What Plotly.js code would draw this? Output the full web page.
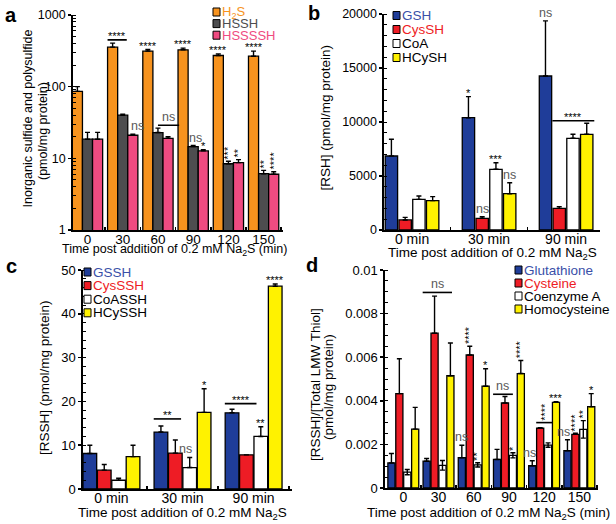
<!DOCTYPE html>
<html><head><meta charset="utf-8">
<script src="https://cdn.plot.ly/plotly-3.0.1.min.js"></script>
<style>html,body{margin:0;padding:0;background:#fff;}#chart{width:616px;height:524px;}</style>
</head><body><div id="chart"></div>
<script>
// ---------------- data ----------------
// Panel a (log scale)
const timesA = ['0','30','60','90','120','150'];
const h2s      = [86, 356, 313, 327, 272, 266];
const h2sErr   = [14, 49, 17, 18, 15, 47];
const hssh     = [18.5, 40, 22.9, 14.6, 8.4, 6.1];
const hsshErr  = [4.5, 1.2, 3.5, 0.5, 0.7, 0.7];
const hsssh    = [18.5, 21, 19, 12.7, 8.7, 6.0];
const hssshErr = [4.5, 0.8, 1.0, 0.5, 0.9, 0.5];

// Panel b
const timesB = ['0 min','30 min','90 min'];
const gsh      = [6850, 10400, 14260];
const gshErr   = [1550, 1950, 5100];
const cysh     = [930, 1080, 2000];
const cyshErr  = [240, 150, 160];
const coa      = [2840, 5620, 8490];
const coaErr   = [310, 610, 370];
const hcysh    = [2720, 3360, 8860];
const hcyshErr = [370, 1020, 1020];

// Panel c
const gssh      = [8.1, 13.0, 17.4];
const gsshErr   = [1.9, 1.4, 0.8];
const cyssh     = [4.3, 8.2, 7.8];
const cysshErr  = [1.3, 3.0, 0];
const coassh    = [2.0, 4.9, 12.0];
const coasshErr = [0.45, 2.3, 2.2];
const hcyssh    = [7.4, 17.5, 46.3];
const hcysshErr = [2.6, 5.4, 0.5];

// Panel d
const glutR   = [0.00115, 0.00123, 0.00139, 0.00131, 0.00102, 0.00171];
const glutE   = [0.00043, 0.00012, 0.00057, 0.00046, 0.00023, 0.0005];
const cysR    = [0.00433, 0.0071, 0.0061, 0.0039, 0.00274, 0.00246];
const cysE    = [0.0016, 0.0017, 0.0004, 0.0003, 0.00003, 0.00005];
const coaR    = [0.00073, 0.00104, 0.00106, 0.0015, 0.00197, 0.00269];
const coaE    = [0.00012, 0.00022, 0.0001, 0.00012, 0.0001, 0.0004];
const hcyR    = [0.0027, 0.00515, 0.00467, 0.00525, 0.00393, 0.00373];
const hcyE    = [0.001, 0.0015, 0.0008, 0.0006, 0.00003, 0.0006];

// significance labels: [category, series, text, rotated, xshift]
const sigA = [[2,0,'****'],[3,0,'****'],[4,0,'****'],[5,0,'****'],[1,2,'ns',0,5],[3,1,'ns',0,2],[3,2,'*'],
              [4,1,'***',1],[4,2,'**',1],[5,1,'**',1],[5,2,'****',1]];
const brA  = [[1,0,1.9,450,'****'],[2,1.5,3.6,29,'ns']];
const sigB = [[1,0,'*'],[1,1,'ns'],[1,2,'***'],[1,3,'ns'],[2,0,'ns']];
const brB  = [[2,1,4.05,10120,'****']];
const sigC = [[1,2,'ns',0,-4],[1,3,'*'],[2,2,'**'],[2,3,'****']];
const brC  = [[1,0,1.9,16,'**'],[2,0,2.2,19.5,'****']];
const sigD = [[2,0,'ns'],[2,1,'****',1],[2,2,'**',1],[2,3,'*'],[3,2,'*',1],[3,3,'****',1],
              [4,0,'ns',0,-3],[4,3,'***'],[5,0,'ns',0,-4],[5,1,'****',1],[5,2,'**',1],[5,3,'*']];
const brD  = [[1,0,3.7,0.00897,'ns'],[3,0,2.5,0.0043,'ns'],[4,1,3,0.0030,'****',1]];

// ---------------- styling ----------------
const ORANGE='#F7931E', GREY='#4D4D4F', PINK='#EF4B81';
const BLUE='#1F3D99', RED='#EE1C25', WHITE='#FFFFFF', YELLOW='#FFF200';
const FONT='Liberation Sans, Arial, sans-serif';
const W=616, H=524;
const PX = v=>v/W, PY = v=>1-v/H;

const panels = [
 {id:'', letter:'a', lpos:[11,15], dx:[72.7,283], dy:[15,230], xr:[-0.42,5.55], gw:0.86, frac:1.0,
  cats:timesA, log:true, yr:[0,3], tv:[1,10,100,1000], minor:'D1',
  ytitle:[['Inorganic sulfide and polysulfide',27.5,119],['(pmol/mg protein)',43,131]],
  xtitle:['Time post addition of 0.2 mM Na<sub>2</sub>S (min)',174.5,250],
  leg:[213,12,11.6], legF:13, sig:sigA, br:brA, tickF:12.5, xtickF:13.5, titleF:12.5,
  series:[
   {name:'H<sub>2</sub>S', y:h2s, e:h2sErr, c:ORANGE, tc:ORANGE},
   {name:'HSSH', y:hssh, e:hsshErr, c:GREY, tc:GREY},
   {name:'HSSSSH', y:hsssh, e:hssshErr, c:PINK, tc:PINK}]},
 {id:'2', letter:'b', lpos:[314,13], dx:[384,600], dy:[14,230], xr:[-0.364,2.44], gw:0.714, frac:0.9,
  cats:timesB, log:false, yr:[0,20000], tv:[0,5000,10000,15000,20000], minor:1000,
  ytitle:[['[RSH] (pmol/mg protein)',325,117.5]],
  xtitle:['Time post addition of 0.2 mM Na<sub>2</sub>S',492,253],
  leg:[393,15.5,14], legF:13.5, sig:sigB, br:brB, tickF:12.5, xtickF:14, titleF:13.5,
  series:[
   {name:'GSH', y:gsh, e:gshErr, c:BLUE, tc:'#3A50A8'},
   {name:'CysSH', y:cysh, e:cyshErr, c:RED, tc:RED},
   {name:'CoA', y:coa, e:coaErr, c:WHITE, tc:'#000'},
   {name:'HCySH', y:hcysh, e:hcyshErr, c:YELLOW, tc:'#000'}]},
 {id:'3', letter:'c', lpos:[11,266], dx:[83,292], dy:[270,489], xr:[-0.4,2.54], gw:0.81, frac:0.95,
  cats:timesB, log:false, yr:[0,50], tv:[0,10,20,30,40,50], minor:2,
  ytitle:[['[RSSH] (pmol/mg protein)',44,378]],
  xtitle:['Time post addition of 0.2 mM Na<sub>2</sub>S',183,513],
  leg:[84,272,13.6], legF:13.5, sig:sigC, br:brC, tickF:13, xtickF:14, titleF:13.5,
  series:[
   {name:'GSSH', y:gssh, e:gsshErr, c:BLUE, tc:'#3A50A8'},
   {name:'CysSSH', y:cyssh, e:cysshErr, c:RED, tc:RED},
   {name:'CoASSH', y:coassh, e:coasshErr, c:WHITE, tc:'#000'},
   {name:'HCySSH', y:hcyssh, e:hcysshErr, c:YELLOW, tc:'#000'}]},
 {id:'4', letter:'d', lpos:[312,265], dx:[385,598], dy:[270,488], xr:[-0.52,5.53], gw:0.9, frac:0.9,
  cats:timesA, log:false, yr:[0,0.01], tv:[0,0.002,0.004,0.006,0.008,0.01], minor:0.0005,
  ytitle:[['[RSSH]/[Total LMW Thiol]',315,385],['(pmol/mg protein)',328,387]],
  xtitle:['Time post addition of 0.2 mM Na<sub>2</sub>S (min)',489,513],
  leg:[515,270,13], legF:13.5, sig:sigD, br:brD, tickF:13, xtickF:14, titleF:13.5,
  series:[
   {name:'Glutathione', y:glutR, e:glutE, c:BLUE, tc:'#3A50A8'},
   {name:'Cysteine', y:cysR, e:cysE, c:RED, tc:RED},
   {name:'Coenzyme A', y:coaR, e:coaE, c:WHITE, tc:'#000', sym:true},
   {name:'Homocysteine', y:hcyR, e:hcyE, c:YELLOW, tc:'#000'}]}
];

const data=[], shapes=[], annotations=[];
const layout = {width:W, height:H, margin:{l:0,r:0,t:0,b:0}, paper_bgcolor:'#fff', plot_bgcolor:'rgba(0,0,0,0)',
  barmode:'overlay', showlegend:false, font:{family:FONT, color:'#000'}};

panels.forEach(p=>{
  const n=p.series.length, slot=p.gw/n, bw=slot*p.frac;
  const xa='x'+p.id, ya='y'+p.id;
  const pos=(cat,s)=>cat - p.gw/2 + slot*s;
  const Ya = v=> p.log ? Math.log10(v) : v;   // annotations on log axes use log10 units
  p.series.forEach((s,i)=>{
    data.push({type:'bar', x:p.cats, y:s.y, xaxis:xa, yaxis:ya, width:bw,
      offset:-p.gw/2 + slot*i + (slot-bw)/2,
      marker:{color:s.c, line:{color:'#000', width:1.3}},
      error_y: s.sym ? {type:'data', array:s.e, symmetric:true, color:'#000', thickness:1.4, width:2.5}
                     : {type:'data', array:s.e, arrayminus:s.e.map(()=>0), symmetric:false, color:'#000', thickness:1.4, width:2.5},
      name:s.name, hoverinfo:'skip'});
    const [lx,ly,ldy]=p.leg, cy=ly+ldy*i;
    shapes.push({type:'rect', xref:'paper', yref:'paper', x0:PX(lx), x1:PX(lx+7), y0:PY(cy+4), y1:PY(cy-4),
      fillcolor:s.c, line:{color:'#000', width:1}});
    annotations.push({xref:'paper', yref:'paper', x:PX(lx+8), y:PY(cy), xanchor:'left', yanchor:'middle',
      text:s.name, showarrow:false, font:{size:p.legF, color:s.tc}, borderpad:0});
  });
  const xk='xaxis'+p.id, yk='yaxis'+p.id;
  layout[xk] = {domain:[PX(p.dx[0]),PX(p.dx[1])], anchor:ya, type:'category', range:p.xr,
    showline:true, linecolor:'#000', linewidth:1.6, ticks:'inside', tickson:'boundaries', ticklen:3, tickwidth:1.6, tickcolor:'#000',
    ticklabelstandoff:-4,
    showgrid:false, zeroline:false, tickfont:{size:p.xtickF, color:'#000'}};
  layout[yk] = {domain:[PY(p.dy[1]),PY(p.dy[0])], anchor:xa, type:p.log?'log':'linear', range:p.yr,
    showline:true, linecolor:'#000', linewidth:1.6, ticks:'outside', ticklen:3, tickwidth:1.6, tickcolor:'#000',
    tickmode:'array', tickvals:p.tv, ticktext:p.tv.map(String),
    minor:{ticks:'inside', ticklen:3, tickwidth:1, tickcolor:'#000', dtick:p.minor, showgrid:false},
    showgrid:false, zeroline:false, tickfont:{size:p.tickF, color:'#000'}};
  p.ytitle.forEach(([t,x,y])=>annotations.push({xref:'paper', yref:'paper', x:PX(x), y:PY(y), text:t, textangle:-90,
    showarrow:false, xanchor:'center', yanchor:'middle', font:{size:p.titleF, color:'#000'}, borderpad:0}));
  annotations.push({xref:'paper', yref:'paper', x:PX(p.xtitle[1]), y:PY(p.xtitle[2]), text:p.xtitle[0],
    showarrow:false, xanchor:'center', yanchor:'middle', font:{size:p.titleF, color:'#000'}, borderpad:0});
  p.sig.forEach(([cat,s,txt,rot,dx])=>{
    const ns = txt==='ns';
    const top = p.series[s].y[cat] + p.series[s].e[cat];
    annotations.push({xref:xa, yref:ya, x:pos(cat,s+0.5), y:Ya(top), text:txt, showarrow:false,
      xanchor:'center', yanchor:'bottom', textangle:rot?-90:0, xshift:dx||0, yshift: ns?0:(rot?1:-3),
      font:{size:ns?12.5:11, color:ns?'#5a5a5a':'#000'}, borderpad:0});
  });
  p.br.forEach(([cat,p0,p1,yv,txt,rot])=>{
    shapes.push({type:'line', xref:xa, yref:ya, x0:pos(cat,p0), x1:pos(cat,p1), y0:yv, y1:yv,
      line:{color:'#000', width:1.6}});
    const ns = txt==='ns';
    annotations.push({xref:xa, yref:ya, x:(pos(cat,p0)+pos(cat,p1))/2, y:Ya(yv), text:txt, showarrow:false,
      xanchor:'center', yanchor:'bottom', textangle:rot?-90:0, yshift: ns?0:(rot?1:-3),
      font:{size:ns?12.5:11, color:ns?'#5a5a5a':'#000'}, borderpad:0});
  });
  annotations.push({xref:'paper', yref:'paper', x:PX(p.lpos[0]), y:PY(p.lpos[1]), text:'<b>'+p.letter+'</b>',
    showarrow:false, xanchor:'center', yanchor:'middle', font:{size:20, color:'#000'}});
});
layout.shapes=shapes; layout.annotations=annotations;
Plotly.newPlot('chart', data, layout, {displayModeBar:false, staticPlot:true});
</script></body></html>
